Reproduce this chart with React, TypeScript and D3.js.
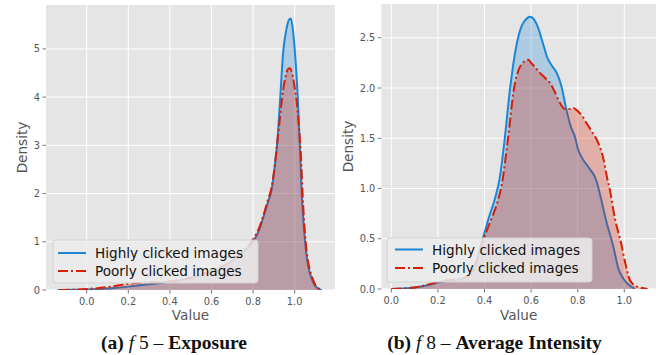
import React from "react";
import * as d3 from "d3";

// ---- Data ----
const legendLabels = ["Highly clicked images", "Poorly clicked images"];
const xTicks = [0.0, 0.2, 0.4, 0.6, 0.8, 1.0];
const yTicksA = [0, 1, 2, 3, 4, 5];
const yTicksB = [0.0, 0.5, 1.0, 1.5, 2.0, 2.5];

// Panel (a) f5 – Exposure
const highA: [number, number][] = [
  [-0.14, 0], [-0.05, 0.004], [0.0, 0.01], [0.1, 0.03], [0.2, 0.07], [0.3, 0.12],
  [0.4, 0.17], [0.5, 0.25], [0.6, 0.38], [0.7, 0.6], [0.75, 0.78], [0.8, 1.0],
  [0.83, 1.25], [0.85, 1.52], [0.87, 1.8], [0.89, 2.1], [0.905, 2.6], [0.915, 3.0],
  [0.93, 3.95], [0.945, 4.95], [0.96, 5.4], [0.972, 5.6], [0.981, 5.63], [0.99, 5.45],
  [1.0, 5.0], [1.015, 4.0], [1.026, 2.9], [1.034, 2.0], [1.045, 1.25], [1.055, 0.8],
  [1.065, 0.5], [1.08, 0.25], [1.1, 0.08], [1.12, 0.01], [1.13, 0],
];
const poorA: [number, number][] = [
  [-0.13, 0], [-0.05, 0.01], [0.0, 0.02], [0.1, 0.06], [0.2, 0.13], [0.3, 0.16],
  [0.4, 0.18], [0.5, 0.26], [0.6, 0.4], [0.7, 0.62], [0.75, 0.8], [0.8, 1.05],
  [0.83, 1.3], [0.85, 1.55], [0.87, 1.85], [0.89, 2.15], [0.905, 2.6], [0.915, 3.0],
  [0.93, 3.6], [0.94, 4.0], [0.955, 4.4], [0.968, 4.58], [0.977, 4.6], [0.99, 4.45],
  [1.0, 4.2], [1.01, 3.9], [1.02, 3.4], [1.03, 2.8], [1.038, 2.0], [1.05, 1.15],
  [1.06, 0.72], [1.07, 0.47], [1.085, 0.26], [1.1, 0.1], [1.12, 0.02], [1.13, 0],
];

// Panel (b) f8 – Average Intensity
const highB: [number, number][] = [
  [0.0, 0], [0.05, 0.005], [0.1, 0.015], [0.15, 0.035], [0.2, 0.065], [0.25, 0.085],
  [0.3, 0.1], [0.34, 0.15], [0.36, 0.24], [0.38, 0.4], [0.4, 0.56], [0.42, 0.72],
  [0.445, 0.9], [0.465, 1.1], [0.487, 1.5], [0.51, 2.0], [0.535, 2.4], [0.56, 2.62],
  [0.58, 2.69], [0.595, 2.71], [0.61, 2.69], [0.63, 2.6], [0.65, 2.45], [0.67, 2.3],
  [0.69, 2.22], [0.71, 2.15], [0.73, 2.02], [0.75, 1.8], [0.77, 1.62], [0.79, 1.5],
  [0.8, 1.4], [0.82, 1.3], [0.85, 1.2], [0.88, 1.08], [0.9, 0.9], [0.92, 0.7],
  [0.953, 0.42], [0.975, 0.2], [1.0, 0.09], [1.02, 0.04], [1.046, 0],
];
const poorB: [number, number][] = [
  [0.0, 0], [0.05, 0.005], [0.1, 0.015], [0.15, 0.04], [0.2, 0.07], [0.25, 0.09],
  [0.3, 0.1], [0.34, 0.15], [0.37, 0.3], [0.4, 0.52], [0.43, 0.7], [0.455, 0.86],
  [0.475, 1.05], [0.501, 1.5], [0.527, 2.0], [0.55, 2.2], [0.575, 2.27], [0.588, 2.28],
  [0.6, 2.25], [0.62, 2.2], [0.638, 2.15], [0.66, 2.1], [0.681, 2.05], [0.7, 1.97],
  [0.724, 1.85], [0.745, 1.79], [0.765, 1.79], [0.781, 1.8], [0.8, 1.77], [0.82, 1.72],
  [0.838, 1.65], [0.86, 1.57], [0.889, 1.45], [0.91, 1.3], [0.925, 1.12], [0.937, 1.0],
  [0.96, 0.7], [0.987, 0.45], [1.005, 0.25], [1.024, 0.09], [1.05, 0.03], [1.1, 0],
];

const BLUE = "#1a86d6";
const RED = "#d81e05";
const BG = "#e5e5e5";
const TXT = "#555555";
const FONT = "DejaVu Sans, sans-serif";

type PanelProps = {
  x0: number; x1: number; y0: number; y1: number;
  xDomain: [number, number]; yMax: number; yTicks: number[]; yFmt: (v: number) => string;
  high: [number, number][]; poor: [number, number][];
  densityX: number; legend: { x: number; y: number; w: number; h: number; hx: number; tx: number; l1: number; l2: number };
  clipId: string;
};

function Panel(p: PanelProps) {
  const x = d3.scaleLinear().domain(p.xDomain).range([p.x0, p.x1]);
  const y = d3.scaleLinear().domain([0, p.yMax]).range([p.y1, p.y0]);
  const area = d3.area<[number, number]>().x((d) => x(d[0])).y0(y(0)).y1((d) => y(d[1])).curve(d3.curveMonotoneX);
  const line = d3.line<[number, number]>().x((d) => x(d[0])).y((d) => y(d[1])).curve(d3.curveMonotoneX);
  const L = p.legend;
  return (
    <g>
      <defs>
        <clipPath id={p.clipId}>
          <rect x={p.x0} y={p.y0} width={p.x1 - p.x0} height={p.y1 - p.y0} />
        </clipPath>
      </defs>
      <rect x={p.x0} y={p.y0} width={p.x1 - p.x0} height={p.y1 - p.y0} fill={BG} />
      {xTicks.map((t) => (
        <line key={"gx" + t} x1={x(t)} x2={x(t)} y1={p.y0} y2={p.y1} stroke="#fff" strokeWidth={1} />
      ))}
      {p.yTicks.map((t) => (
        <line key={"gy" + t} x1={p.x0} x2={p.x1} y1={y(t)} y2={y(t)} stroke="#fff" strokeWidth={1} />
      ))}
      <g clipPath={`url(#${p.clipId})`}>
        <path d={area(p.high) || ""} fill={BLUE} fillOpacity={0.27} />
        <path d={line(p.high) || ""} fill="none" stroke={BLUE} strokeWidth={2} />
        <path d={area(p.poor) || ""} fill={RED} fillOpacity={0.27} />
        <path d={line(p.poor) || ""} fill="none" stroke={RED} strokeWidth={2} strokeDasharray="10,3,2,3" />
      </g>
      {xTicks.map((t) => (
        <g key={"tx" + t}>
          <line x1={x(t)} x2={x(t)} y1={p.y1} y2={p.y1 + 3.5} stroke={TXT} strokeWidth={0.8} />
          <text x={x(t)} y={p.y1 + 15} textAnchor="middle" fontSize={9.8} fill={TXT} fontFamily={FONT}>
            {t.toFixed(1)}
          </text>
        </g>
      ))}
      {p.yTicks.map((t) => (
        <g key={"ty" + t}>
          <line x1={p.x0 - 3.5} x2={p.x0} y1={y(t)} y2={y(t)} stroke={TXT} strokeWidth={0.8} />
          <text x={p.x0 - 6} y={y(t) + 3.5} textAnchor="end" fontSize={9.8} fill={TXT} fontFamily={FONT}>
            {p.yFmt(t)}
          </text>
        </g>
      ))}
      <text x={(p.x0 + Math.min(p.x1, 656)) / 2} y={320} textAnchor="middle" fontSize={13.6} fill={TXT} fontFamily={FONT}>
        Value
      </text>
      <text
        transform={`translate(${p.densityX},${(p.y0 + p.y1) / 2}) rotate(-90)`}
        textAnchor="middle"
        fontSize={13.6}
        fill={TXT}
        fontFamily={FONT}
      >
        Density
      </text>
      <rect x={L.x} y={L.y} width={L.w} height={L.h} rx={3} fill="#ececec" fillOpacity={0.85} stroke="#d2d2d2" strokeWidth={1} />
      <line x1={L.hx} x2={L.hx + 28} y1={L.l1} y2={L.l1} stroke={BLUE} strokeWidth={2} />
      <line x1={L.hx} x2={L.hx + 28} y1={L.l2} y2={L.l2} stroke={RED} strokeWidth={2} strokeDasharray="10,3,2,3" />
      <text x={L.tx} y={L.l1 + 5} fontSize={13.6} fill="#111" fontFamily={FONT}>{legendLabels[0]}</text>
      <text x={L.tx} y={L.l2 + 5} fontSize={13.6} fill="#111" fontFamily={FONT}>{legendLabels[1]}</text>
    </g>
  );
}

export default function App() {
  const serif = "Liberation Serif, serif";
  return (
    <svg width={656} height={355} style={{ position: "absolute", left: 0, top: 0, background: "#fff" }}>
      <Panel
        x0={46} x1={335} y0={5} y1={290}
        xDomain={[-0.196, 1.194]} yMax={5.91} yTicks={yTicksA} yFmt={(v) => String(v)}
        high={highA} poor={poorA} densityX={27}
        legend={{ x: 53, y: 240, w: 205, h: 43, hx: 58, tx: 95, l1: 253, l2: 271 }}
        clipId="clipA"
      />
      <Panel
        x0={381.3} x1={660.4} y0={4} y1={289}
        xDomain={[-0.043, 1.155]} yMax={2.836} yTicks={yTicksB} yFmt={(v) => v.toFixed(1)}
        high={highB} poor={poorB} densityX={353}
        legend={{ x: 387, y: 238, w: 205, h: 44, hx: 395, tx: 432, l1: 249.5, l2: 268 }}
        clipId="clipB"
      />
      <text x={174} y={349} textAnchor="middle" fontFamily={serif} fontSize={19.5} fill="#111">
        <tspan fontWeight="bold">(a) </tspan>
        <tspan fontStyle="italic">f</tspan>
        <tspan> 5 – </tspan>
        <tspan fontWeight="bold">Exposure</tspan>
      </text>
      <text x={494.5} y={349} textAnchor="middle" fontFamily={serif} fontSize={19.5} fill="#111">
        <tspan fontWeight="bold">(b) </tspan>
        <tspan fontStyle="italic">f</tspan>
        <tspan> 8 – </tspan>
        <tspan fontWeight="bold">Average Intensity</tspan>
      </text>
    </svg>
  );
}
